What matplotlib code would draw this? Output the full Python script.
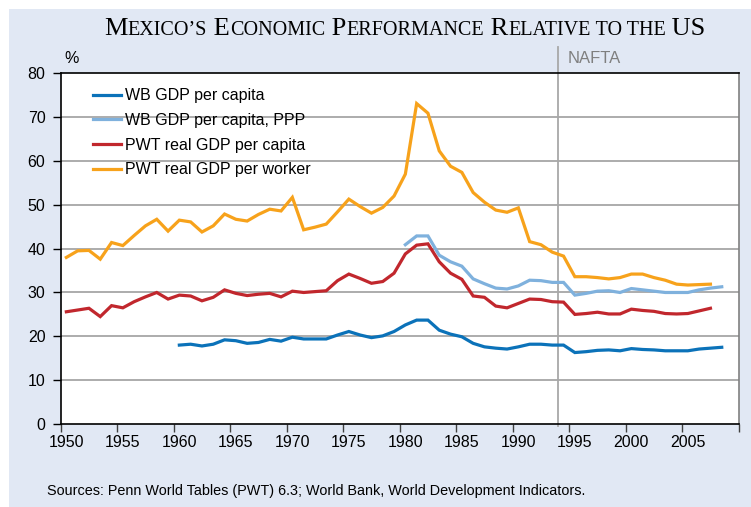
import numpy as np
import matplotlib
matplotlib.use("Agg")
import matplotlib.pyplot as plt
from matplotlib.patches import Rectangle

plt.rcParams['font.family'] = ['Liberation Sans', 'DejaVu Sans']

years = list(range(1950, 2009))

# PWT real GDP per worker, 1950-2007
pwt_worker = [38.0, 39.5, 39.6, 37.6, 41.4, 40.7, 43.0, 45.2, 46.7, 44.0,
              46.5, 46.1, 43.8, 45.2, 47.9, 46.7, 46.3, 47.8, 49.0, 48.6,
              51.7, 44.3, 44.9, 45.6, 48.4, 51.3, 49.6, 48.1, 49.4, 52.0,
              57.0, 73.1, 70.9, 62.3, 58.8, 57.4, 52.8, 50.6, 48.8, 48.3,
              49.3, 41.6, 40.9, 39.2, 38.3, 33.6, 33.6, 33.4, 33.1, 33.4,
              34.2, 34.2, 33.4, 32.8, 31.9, 31.7, 31.8, 31.9]

# PWT real GDP per capita, 1950-2007
pwt_capita = [25.6, 26.0, 26.4, 24.5, 27.0, 26.5, 27.9, 29.0, 30.0, 28.5,
              29.4, 29.2, 28.1, 28.9, 30.6, 29.8, 29.3, 29.6, 29.8, 29.0,
              30.3, 30.0, 30.2, 30.4, 32.7, 34.2, 33.2, 32.1, 32.5, 34.4,
              38.8, 40.8, 41.1, 37.0, 34.4, 33.0, 29.2, 28.9, 26.9, 26.5,
              27.5, 28.5, 28.4, 27.9, 27.8, 25.0, 25.2, 25.5, 25.1, 25.1,
              26.2, 25.9, 25.7, 25.2, 25.1, 25.2, 25.8, 26.4]

# WB GDP per capita, 1960-2008
wb_capita = [18.0, 18.2, 17.8, 18.2, 19.2, 19.0, 18.4, 18.6, 19.3, 18.9,
             19.8, 19.4, 19.4, 19.4, 20.3, 21.1, 20.3, 19.7, 20.1, 21.1,
             22.6, 23.7, 23.7, 21.4, 20.5, 19.9, 18.4, 17.6, 17.3, 17.1,
             17.6, 18.2, 18.2, 18.0, 18.0, 16.3, 16.5, 16.8, 16.9, 16.7,
             17.2, 17.0, 16.9, 16.7, 16.7, 16.7, 17.1, 17.3, 17.5]

# WB GDP per capita, PPP, 1980-2008
wb_ppp = [40.9, 42.9, 42.9, 38.5, 37.0, 36.0, 33.1, 32.0, 31.0, 30.8,
          31.5, 32.8, 32.7, 32.3, 32.3, 29.4, 29.8, 30.3, 30.4, 30.0,
          30.9, 30.6, 30.3, 30.0, 30.0, 30.0, 30.6, 31.0, 31.3]

series = [
    ("WB GDP per capita", 1960, wb_capita, '#0b72b9'),
    ("WB GDP per capita, PPP", 1980, wb_ppp, '#7fb1dd'),
    ("PWT real GDP per capita", 1950, pwt_capita, '#c1272d'),
    ("PWT real GDP per worker", 1950, pwt_worker, '#f7a21b'),
]

tick_years = list(range(1950, 2010, 5))
nafta_year = 1994

W, H = 751, 507
fig = plt.figure(figsize=(W / 100, H / 100), dpi=100)
fig.patch.set_facecolor('white')
fig.patches.append(Rectangle((9 / W, 0), 1, 1 - 9 / H, transform=fig.transFigure,
                             facecolor='#e1e8f4', edgecolor='none', zorder=-10))

ax = fig.add_axes([60.7 / W, 1 - 424 / H, 678 / W, (424 - 73.3) / H])
ax.set_facecolor('white')

# category axis: each year is one slot, point drawn in its middle
for name, start, vals, col in series:
    x = np.arange(len(vals)) + (start - 1950) + 0.5
    ax.plot(x, vals, color=col, lw=2.3, label=name, solid_joinstyle='miter', zorder=3)

ax.set_xlim(0, 60)
ax.set_ylim(0, 80)
ax.set_yticks(range(0, 81, 10))
ax.set_xticks(range(0, 61, 5))
ax.set_xticklabels([])
ax.set_xticks([y - 1950 + 0.5 for y in tick_years], minor=True)
ax.set_xticklabels([str(y) for y in tick_years], minor=True)
ax.tick_params(axis='x', which='minor', length=0, pad=8, labelsize=11.5)
ax.tick_params(axis='x', which='major', length=6, width=1, color='#404040')
ax.tick_params(axis='y', length=6, width=1, labelsize=11.5, pad=5)

for v in range(10, 80, 10):
    ax.axhline(v, color='#a6a6a6', lw=1.3, zorder=1)

for s in ['left', 'bottom', 'top']:
    ax.spines[s].set_color('black')
    ax.spines[s].set_linewidth(1.2)
ax.spines['right'].set_color('#808080')
ax.spines['right'].set_linewidth(1.2)

# NAFTA marker, running up above the plot frame
ax.plot([nafta_year - 1950, nafta_year - 1950], [-0.5, 86], color='#a8a8a8',
        lw=1.3, clip_on=False, zorder=2)
ax.text(nafta_year - 1950 + 0.85, 83.4, "NAFTA", color='#7f7f7f', fontsize=12,
        va='center', ha='left')
ax.text(0.3, 83.4, "%", fontsize=11.5, va='center', ha='left')

leg = ax.legend(loc='upper left', bbox_to_anchor=(0.038, 0.975), frameon=False,
                fontsize=11.5, handlelength=1.75, handletextpad=0.25,
                labelspacing=0.6, borderaxespad=0)

fig.text(47 / W, 1 - 491 / H, "Sources: Penn World Tables (PWT) 6.3; World Bank, "
         "World Development Indicators.", fontsize=10.4, va='center', ha='left')

# title in small caps, built from pieces of two sizes
pieces = [("M", 19), ("EXICO\u2019S", 14.5), (" E", 19), ("CONOMIC", 14.5),
          (" P", 19), ("ERFORMANCE", 14.5), (" R", 19), ("ELATIVE", 14.5),
          (" TO THE", 14.5), (" US", 19)]
renderer = fig.canvas.get_renderer()
texts = []
xpos = 0
for s, size in pieces:
    t = fig.text(0, 1 - 35 / H, s, fontsize=size, family='Liberation Serif',
                 va='baseline', ha='left')
    w = t.get_window_extent(renderer).width
    texts.append((t, xpos))
    xpos += w
x0 = 405 - xpos / 2
for t, off in texts:
    t.set_x((x0 + off) / W)

fig.savefig("out.png", dpi=100, facecolor=fig.get_facecolor())
